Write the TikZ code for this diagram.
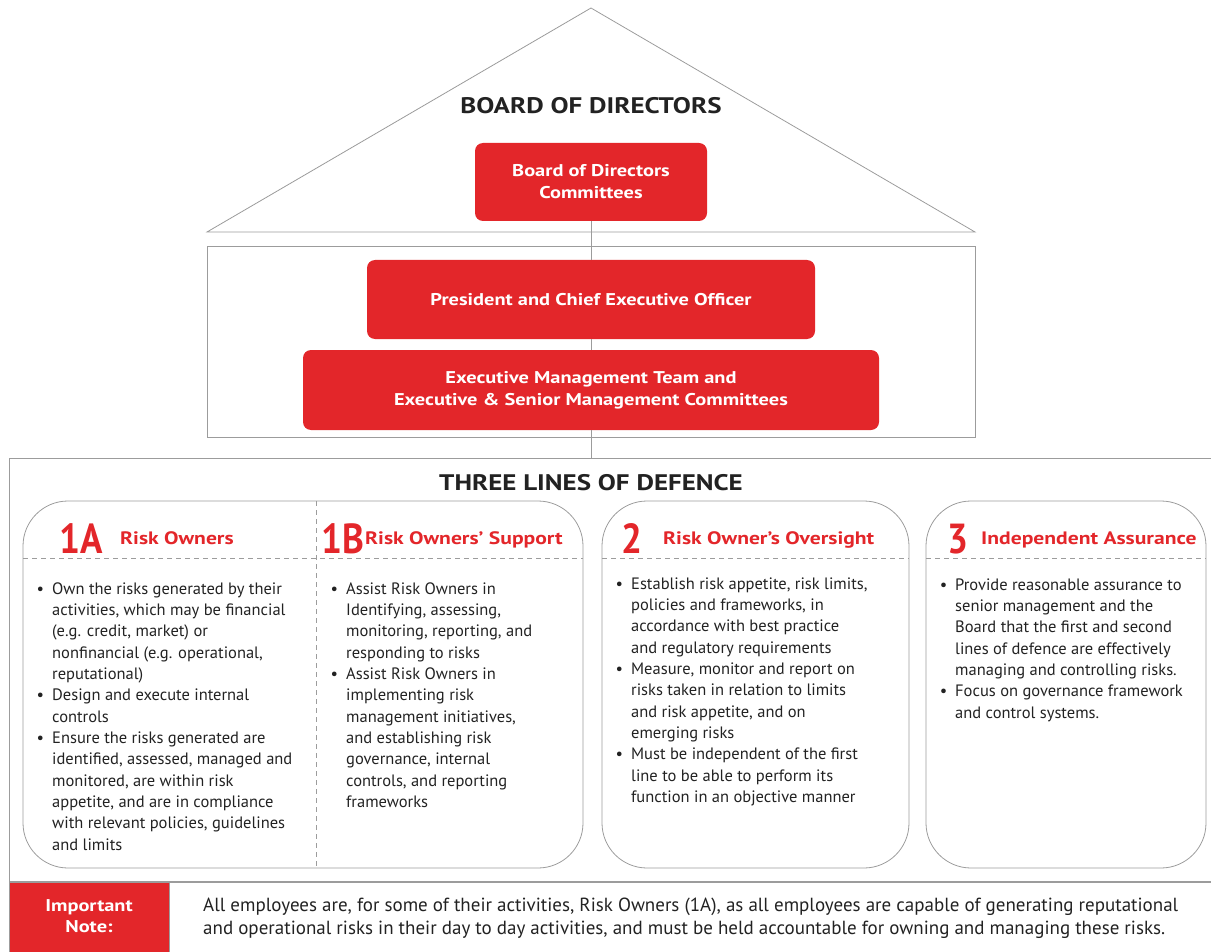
\documentclass[tikz,border=0pt]{standalone}
\usepackage{fontspec}
\setmainfont{PT Sans}
\newfontfamily\widebold[FakeStretch=1.2,UprightFont={* Bold}]{PT Sans}
\newfontfamily\narrowbold[FakeStretch=0.88,UprightFont={* Bold}]{PT Sans}
\definecolor{rd}{HTML}{E3262A}
\definecolor{gl}{HTML}{9C9C9C}
\definecolor{tx}{HTML}{222222}
\newcommand{\bl}{\leavevmode\llap{\textbullet\hspace{8pt}}}
\begin{document}
\begin{tikzpicture}[x=1pt,y=-1pt,
  redbox/.style={fill=rd,rounded corners=8pt,text=white,font=\fontsize{17}{22}\widebold,align=center,inner sep=0pt},
  thin gray/.style={draw=gl,line width=0.8pt},
  title/.style={font=\fontsize{22.5}{26}\widebold,text=tx,inner sep=0pt},
  bignum/.style={font=\fontsize{42}{42}\narrowbold,text=rd,inner sep=0pt,anchor=base west},
  head/.style={font=\fontsize{18}{22}\widebold,text=rd,inner sep=0pt,anchor=base west},
  body/.style={font=\fontsize{16.5}{21.35}\selectfont,text=tx,inner sep=0pt,anchor=base west},
  lobox/.style={draw=gl,line width=0.8pt,rounded corners=45pt},
  dsh/.style={draw=gl,line width=0.8pt,dash pattern=on 5pt off 4pt}]
\useasboundingbox (0,0) rectangle (1211,952);

% roof
\draw[thin gray] (207,232) -- (591,8) -- (975,232) -- cycle;
\node[title] (bodt) at (591,106) {BOARD OF DIRECTORS};
\node[redbox,minimum width=232pt,minimum height=78pt] (bod) at (591,182) {Board of Directors\\Committees};

% management frame
\draw[thin gray] (207,246) rectangle (975,437);
\node[redbox,minimum width=448pt,minimum height=79pt] (ceo) at (591,299.5) {President and Chief Executive Officer};
\node[redbox,minimum width=576pt,minimum height=80pt] (emt) at (591,390) {Executive Management Team and\\Executive \& Senior Management Committees};

\coordinate (tld) at (591,458);
\draw[thin gray] (bod.south) -- (ceo.north);
\draw[thin gray] (ceo.south) -- (emt.north);
\draw[thin gray] (emt.south) -- (tld);

% three lines frame
\draw[draw=gl,line width=1pt] (1211,458) -- (9,458) -- (9,952);
\node[title] (tlt) at (591,483) {THREE LINES OF DEFENCE};

\draw[lobox] (23,501) rectangle (583,868);
\draw[lobox] (602,501) rectangle (909,868);
\draw[lobox] (926,501) rectangle (1206,868);
\draw[dsh] (23,558) -- (583,558);
\draw[dsh] (602,558) -- (909,558);
\draw[dsh] (926,558) -- (1206,558);
\draw[dsh] (316,501) -- (316,868);

\node[bignum] (n1a) at (59,553) {1A};
\node[head] (h1a) at (120,544) {Risk Owners};
\node[bignum] (n1b) at (321,553) {1B};
\node[head] (h1b) at (365,544) {Risk Owners’ Support};
\node[bignum] (n2) at (621,553) {2};
\node[head] (h2) at (663,544) {Risk Owner’s Oversight};
\node[bignum] (n3) at (947,553) {3};
\node[head] (h3) at (981,544) {Independent Assurance};

\node[body] (t1a) at (52,594) {\parbox[t]{260pt}{\raggedright
\bl Own the risks generated by their\\
activities, which may be financial\\
(e.g. credit, market) or\\
nonfinancial (e.g. operational,\\
reputational)\\
\bl Design and execute internal\\
controls\\
\bl Ensure the risks generated are\\
identified, assessed, managed and\\
monitored, are within risk\\
appetite, and are in compliance\\
with relevant policies, guidelines\\
and limits}};

\node[body] (t1b) at (346,594) {\parbox[t]{230pt}{\raggedright
\bl Assist Risk Owners in\\
Identifying, assessing,\\
monitoring, reporting, and\\
responding to risks\\
\bl Assist Risk Owners in\\
implementing risk\\
management initiatives,\\
and establishing risk\\
governance, internal\\
controls, and reporting\\
frameworks}};

\node[body] (t2) at (631,589) {\parbox[t]{270pt}{\raggedright
\bl Establish risk appetite, risk limits,\\
policies and frameworks, in\\
accordance with best practice\\
and regulatory requirements\\
\bl Measure, monitor and report on\\
risks taken in relation to limits\\
and risk appetite, and on\\
emerging risks\\
\bl Must be independent of the first\\
line to be able to perform its\\
function in an objective manner}};

\node[body] (t3) at (955,590) {\parbox[t]{245pt}{\raggedright
\bl Provide reasonable assurance to\\
senior management and the\\
Board that the first and second\\
lines of defence are effectively\\
managing and controlling risks.\\
\bl Focus on governance framework\\
and control systems.}};

% important note
\draw[draw=gl,line width=2pt] (9,882) -- (1211,882);
\fill[rd] (10,883) rectangle (169,952);
\draw[draw=gl,line width=1pt] (169,883) -- (169,952);
\node[font=\fontsize{17}{21}\widebold,text=white,align=center,inner sep=0pt] (imp) at (89,916.5) {Important\\Note:};
\node[font=\fontsize{19}{23}\selectfont,text=tx,inner sep=0pt,anchor=base west] (note) at (203,911) {\parbox[t]{1000pt}{\raggedright
All employees are, for some of their activities, Risk Owners (1A), as all employees are capable of generating reputational\\
and operational risks in their day to day activities, and must be held accountable for owning and managing these risks.}};
\end{tikzpicture}
\end{document}
